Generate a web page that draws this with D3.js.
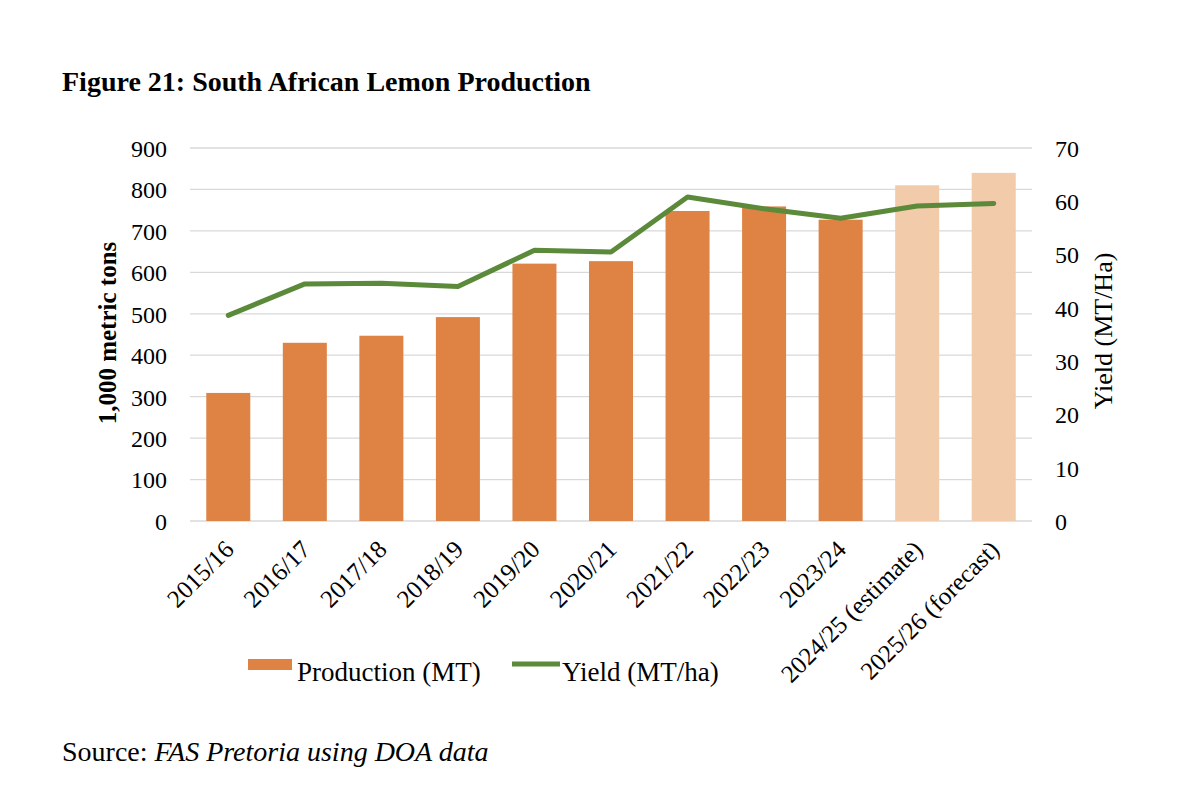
<!DOCTYPE html>
<html><head>
<meta charset="utf-8">
<script src="https://d3js.org/d3.v7.min.js"></script>
<style>
  body { margin: 0; background: #fff; }
  svg text { font-family: "Liberation Serif", "Times New Roman", serif; fill: #000; }
</style>
</head>
<body>
<svg id="chart" width="1200" height="788"></svg>
<script>

  // Data
  const seasons = ["2015/16","2016/17","2017/18","2018/19","2019/20","2020/21",
                   "2021/22","2022/23","2023/24","2024/25 (estimate)","2025/26 (forecast)"];
  const production = [309, 430, 447, 492, 621, 627, 748, 759, 727, 810, 840];   // 1,000 MT
  const yieldHa = [38.6, 44.5, 44.6, 44.0, 50.8, 50.5, 60.8, 58.6, 56.8, 59.1, 59.6]; // MT/ha
  const projected = [false,false,false,false,false,false,false,false,false,true,true];
  const leftTicks = [0,100,200,300,400,500,600,700,800,900];
  const rightTicks = [0,10,20,30,40,50,60,70];

  const svg = d3.select("#chart");
  const plotLeft = 190, plotRight = 1032, plotTop = 148, plotBottom = 521;

  const x = d3.scaleBand().domain(seasons).range([plotLeft, plotRight]).paddingInner(0.425).paddingOuter(0.2125);
  const yL = d3.scaleLinear().domain([0, 900]).range([plotBottom, plotTop]);
  const yR = d3.scaleLinear().domain([0, 70]).range([plotBottom, plotTop]);

  // title
  svg.append("text").attr("x", 62).attr("y", 91)
     .style("font-size", "28px").style("font-weight", "bold")
     .text("Figure 21: South African Lemon Production");

  // gridlines
  svg.append("g").selectAll("line").data(leftTicks).join("line")
     .attr("x1", plotLeft).attr("x2", plotRight)
     .attr("y1", d => yL(d)).attr("y2", d => yL(d))
     .attr("stroke", "#d9d9d9").attr("stroke-width", 1.3);

  // left axis labels
  const gl = svg.append("g").attr("transform", `translate(${plotLeft - 23},0)`)
     .call(d3.axisLeft(yL).tickValues(leftTicks).tickSize(0).tickPadding(0));
  gl.select(".domain").remove();
  gl.selectAll("text").style("font-size", "24px").attr("dy", "0.35em");

  // right axis labels
  const gr = svg.append("g").attr("transform", `translate(${plotRight + 23},0)`)
     .call(d3.axisRight(yR).tickValues(rightTicks).tickSize(0).tickPadding(0));
  gr.select(".domain").remove();
  gr.selectAll("text").style("font-size", "24px").attr("dy", "0.35em");

  // axis titles
  svg.append("text").attr("transform", "translate(116,333) rotate(-90)")
     .attr("text-anchor", "middle").style("font-size", "25px").style("font-weight", "bold")
     .text("1,000 metric tons");
  svg.append("text").attr("transform", "translate(1112,331) rotate(-90)")
     .attr("text-anchor", "middle").style("font-size", "26px")
     .text("Yield (MT/Ha)");

  // bars
  svg.append("g").selectAll("rect").data(seasons).join("rect")
     .attr("x", d => x(d)).attr("width", x.bandwidth())
     .attr("y", (d, i) => yL(production[i]))
     .attr("height", (d, i) => plotBottom - yL(production[i]))
     .attr("fill", (d, i) => projected[i] ? "#f1cbaa" : "#df8344");

  // yield line
  const line = d3.line()
     .x((d, i) => x(seasons[i]) + x.bandwidth() / 2)
     .y(d => yR(d));
  svg.append("path").datum(yieldHa).attr("d", line)
     .attr("fill", "none").attr("stroke", "#5a8a3a").attr("stroke-width", 5)
     .attr("stroke-linejoin", "round").attr("stroke-linecap", "round");

  // x labels
  svg.append("g").selectAll("text").data(seasons).join("text")
     .attr("transform", d => `translate(${x(d) + x.bandwidth() / 2 + 7},${plotBottom + 30}) rotate(-45)`)
     .attr("text-anchor", "end").style("font-size", "25px")
     .text(d => d);

  // legend
  svg.append("rect").attr("x", 248).attr("y", 659).attr("width", 44).attr("height", 11).attr("fill", "#df8344");
  svg.append("text").attr("x", 297).attr("y", 681).style("font-size", "27px").text("Production (MT)");
  svg.append("line").attr("x1", 512).attr("x2", 560).attr("y1", 664).attr("y2", 664)
     .attr("stroke", "#5a8a3a").attr("stroke-width", 5);
  svg.append("text").attr("x", 562).attr("y", 681).style("font-size", "27px").text("Yield (MT/ha)");

  // source
  const src = svg.append("text").attr("x", 62).attr("y", 761).style("font-size", "28px");
  src.append("tspan").text("Source: ");
  src.append("tspan").style("font-style", "italic").text("FAS Pretoria using DOA data");

</script>
</body>
</html>
